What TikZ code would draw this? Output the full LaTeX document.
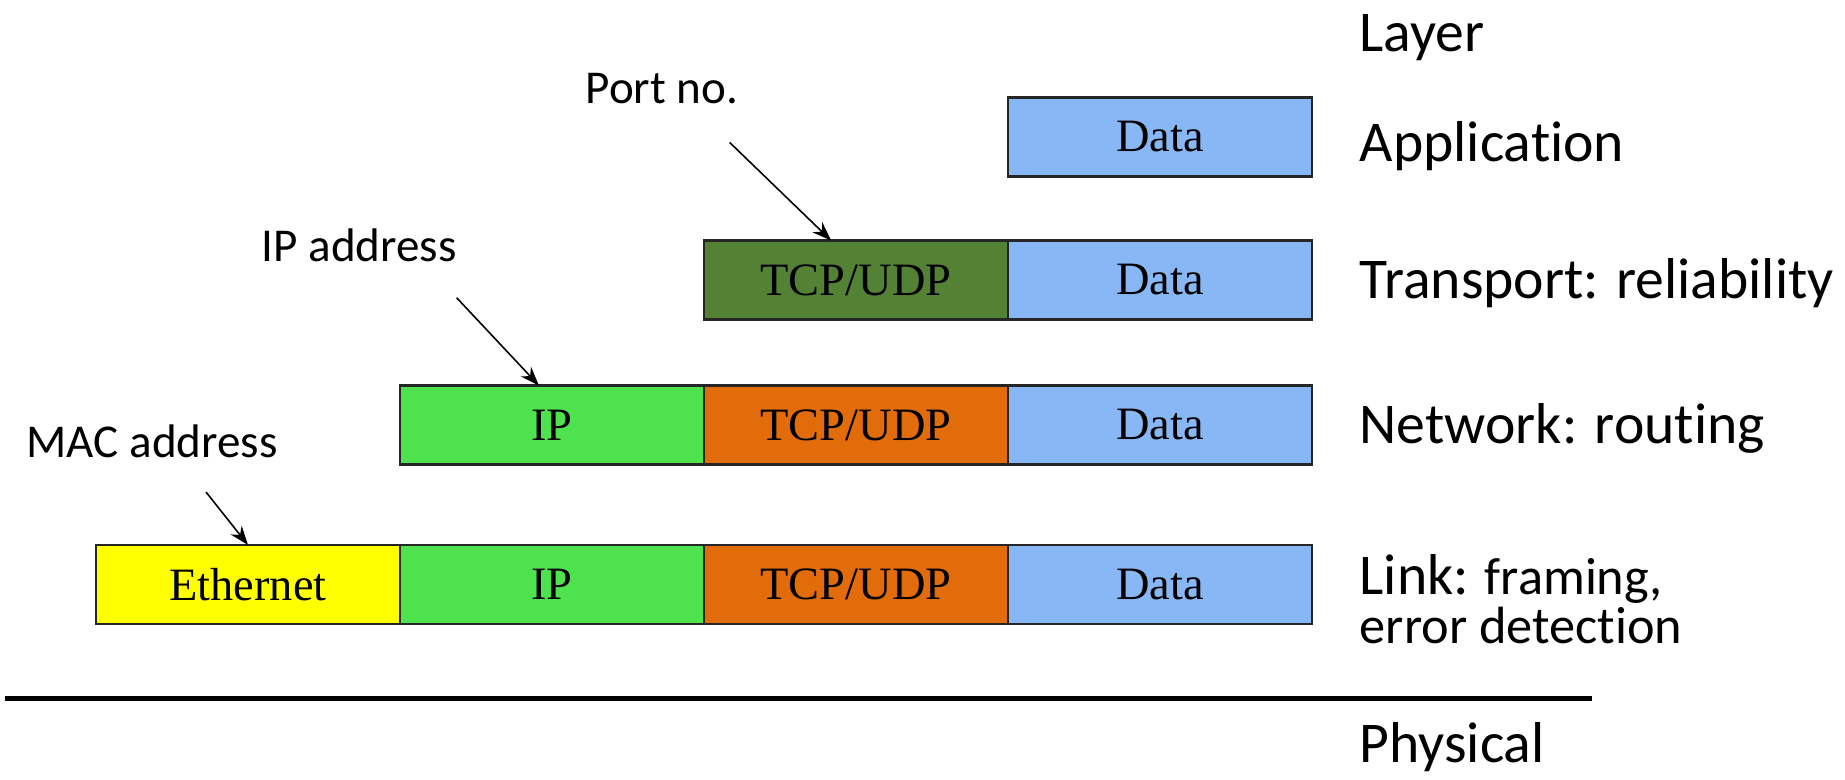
\documentclass[tikz,border=0pt]{standalone}
\usepackage{fontspec}
\setmainfont{Liberation Serif}
\newfontfamily\calibri[Ligatures=NoCommon]{Carlito}
\usepackage{tikz}
\usetikzlibrary{positioning, arrows.meta, calc}
\usepackage{xcolor}
\definecolor{datablue}{RGB}{135,184,245}
\definecolor{tcpgreen}{RGB}{84,130,53}
\definecolor{ipgreen}{RGB}{78,226,78}
\definecolor{tcporange}{RGB}{226,107,10}
\definecolor{ethyellow}{RGB}{255,255,0}
\tikzset{
    campo/.style={draw=black!85, line width=0.6pt, minimum width=3.04cm, minimum height=0.79cm,
        inner sep=0pt, outer sep=0pt, font=\fontsize{13.2}{15}\selectfont},
    rotulo/.style={anchor=base west, inner sep=0pt, font=\calibri\fontsize{13.4}{16}\selectfont},
    camada/.style={anchor=base west, inner sep=0pt, font=\calibri\fontsize{16.4}{19}\selectfont},
    seta/.style={-{Stealth[length=0.19cm, width=0.14cm]}, line width=0.45pt}
}

\begin{document}
\begin{tikzpicture}
    \useasboundingbox (0,0) rectangle (18.45,7.79);
    % application
    \node[campo, fill=datablue] (dataA) at (11.60,6.42) {Data};
    % transport
    \node[campo, fill=datablue] (dataT) at (11.60,4.99) {Data};
    \node[campo, fill=tcpgreen, left=0pt of dataT] (tcpT) {TCP/UDP};
    % network
    \node[campo, fill=datablue] (dataN) at (11.60,3.54) {Data};
    \node[campo, fill=tcporange, left=0pt of dataN] (tcpN) {TCP/UDP};
    \node[campo, fill=ipgreen, left=0pt of tcpN] (ipN) {IP};
    % link
    \node[campo, fill=datablue] (dataL) at (11.60,1.945) {Data};
    \node[campo, fill=tcporange, left=0pt of dataL] (tcpL) {TCP/UDP};
    \node[campo, fill=ipgreen, left=0pt of tcpL] (ipL) {IP};
    \node[campo, fill=ethyellow, left=0pt of ipL] (ethL) {Ethernet};

    % header fields
    \node[rotulo] (port) at (5.85,6.755) {Port no.};
    \node[rotulo] (ipaddr) at (2.61,5.17) {IP address};
    \node[rotulo] (mac) at (0.26,3.213) {MAC address};
    \coordinate (portstart) at (7.296,6.366);
    \coordinate (ipstart) at (4.566,4.813);
    \coordinate (macstart) at (2.06,2.87);
    \draw[seta] (portstart) -- ($(tcpT.north west)!0.418!(tcpT.north east)$);
    \draw[seta] (ipstart) -- ($(ipN.north west)!0.457!(ipN.north east)$);
    \draw[seta] (macstart) -- (ethL.north);

    % layers
    \node[camada] (layer) at (13.59,7.272) {Layer};
    \node[camada] (app) at (13.59,6.175) {Application};
    \node[camada] (transp) at (13.59,4.805) {Transport: reliability};
    \node[camada] (netw) at (13.59,3.355) {Network: routing};
    \node[camada, align=left, font=\calibri\fontsize{14.9}{12.8}\selectfont] (link) at (13.59,1.36)
        {{\fontsize{16.4}{12.8}\selectfont Link:} framing,\\error detection};
    \coordinate (fisA) at (0.05,0.81);
    \coordinate (fisB) at (15.92,0.81);
    \draw[line width=1.42pt] (fisA) -- (fisB);
    \node[camada] (phys) at (13.59,0.17) {Physical};
\end{tikzpicture}
\end{document}
